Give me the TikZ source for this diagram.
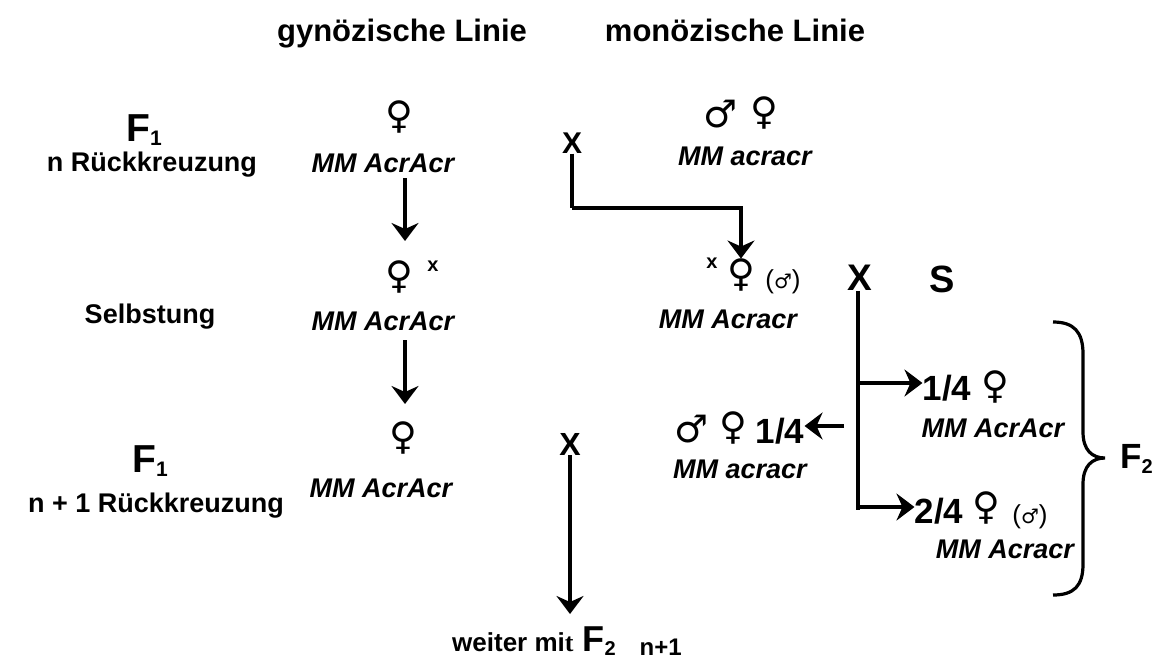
\documentclass[tikz,border=0pt]{standalone}
\usepackage{fontspec}
\setmainfont{Liberation Sans}
\newfontfamily\sym{DejaVu Sans}
\newfontfamily\serifb{Liberation Serif}
\usetikzlibrary{arrows.meta,calc}
\newcommand{\fs}[1]{\fontsize{#1}{#1}\selectfont}
\newcommand{\lowsub}[2]{\raisebox{-#1pt}{\fs{21}#2}}
\begin{document}
\begin{tikzpicture}[x=1pt,y=-1pt,
  txt/.style={inner sep=0pt, anchor=base, font=\bfseries\fs{27}},
  ttl/.style={inner sep=0pt, anchor=base, font=\bfseries\fs{31}},
  gen/.style={inner sep=0pt, anchor=base, font=\bfseries\itshape\fs{27}},
  sx/.style={inner sep=0pt, font=\sym\fs{38}},
  frac/.style={inner sep=0pt, anchor=base, font=\bfseries\fs{35}},
  par/.style={inner sep=0pt, font=\fs{26}},
  bigF/.style={inner sep=0pt, anchor=base west, font=\bfseries\fs{39}},
  arr/.style={line width=4pt, -{Stealth[length=18pt,width=27pt,inset=6pt]}},
  ln/.style={line width=4pt},
]
\useasboundingbox (0,0) rectangle (1161,659);
% titles
\node[ttl] (tg) at (402,41) {gynözische Linie};
\node[ttl] (tm) at (735,41) {monözische Linie};
% left labels
\node[bigF] (f1a) at (126,141) {F\lowsub{4}{1}};
\node[txt] (rk1) at (152,171) {n Rückkreuzung};
\node[txt] (self) at (150,323) {Selbstung};
\node[bigF] (f1b) at (132,472) {F\lowsub{4}{1}};
\node[txt] (rk2) at (156,512) {n + 1 Rückkreuzung};
% gynoecious line
\node[sx] (fem1) at (399,117) {♀};
\node[gen] (gen1) at (383,172) {MM AcrAcr};
\node[sx] (fem2) at (399,277) {♀};
\node[inner sep=0pt,font=\bfseries\fs{20}] (xs2) at (433,266) {x};
\node[gen] (gen2) at (383,330) {MM AcrAcr};
\node[sx] (fem3) at (403,438) {♀};
\node[gen] (gen3) at (381,497) {MM AcrAcr};
\coordinate (a1s) at (405,178);
\coordinate (a1e) at (405,241);
\coordinate (a2s) at (405,340);
\coordinate (a2e) at (405,404);
\draw[arr] (a1s) -- (a1e);
\draw[arr] (a2s) -- (a2e);
% crosses
\node[inner sep=0pt,font=\bfseries\fs{30}] (crossA) at (572,143) {X};
\node[inner sep=0pt,font=\bfseries\fs{32}] (crossB) at (570,444) {X};
\node[inner sep=0pt,font=\bfseries\fs{37}] (crossC) at (860,278) {X};
\node[inner sep=0pt,font=\bfseries\fs{38}] (S) at (942,279) {S};
% monoecious line
\node[sx] (mal1) at (721,114) {♂};
\node[sx] (fem5) at (764,113) {♀};
\node[gen] (gen5) at (745,165) {MM acracr};
\node[inner sep=0pt,font=\bfseries\fs{20}] (xs4) at (712,263) {x};
\node[sx] (fem4) at (741,275) {♀};
\node[par] (pm4) at (783,282) {({\sym\fs{20}♂})};
\node[gen] (gen4) at (728,328) {MM Acracr};
\coordinate (kA) at (572,208);
\draw[ln] (crossA.south) -- (kA);
\draw[arr] (kA) -| (fem4.north);
% offspring
\node[frac] (q1) at (947,400) {1/4};
\node[sx] (fem6) at (995,387) {♀};
\node[gen] (gen6) at (993,437) {MM AcrAcr};
\node[frac] (q2) at (939,523) {2/4};
\node[sx] (fem7) at (986,508) {♀};
\node[par] (pm7) at (1030,517) {({\sym\fs{20}♂})};
\node[gen] (gen7) at (1005,558) {MM Acracr};
\node[sx] (mal8) at (692,429) {♂};
\node[sx] (fem8) at (733,428) {♀};
\node[frac] (q3) at (780,443) {1/4};
\node[gen] (gen8) at (740,478) {MM acracr};
\coordinate (cEnd) at (858,510);
\draw[ln] (crossC.south -| cEnd) -- (cEnd);
\coordinate (b1) at (858,383);
\coordinate (b2) at (858,507);
\draw[arr] (b1) -- (q1.west |- b1);
\draw[arr] (b2) -- (q2.west |- b2);
\coordinate (lS) at (844,426);
\draw[arr] (lS) -- (q3.east |- lS);
% brace
\node[inner sep=0pt] (brtip) at (1105,458) {};
\draw[line width=3.2pt] (1053,322) .. controls (1074,322) and (1083,332) .. (1083,354)
  -- (1083,432) .. controls (1083,450) and (1092,458) .. (brtip.center)
  .. controls (1092,458) and (1083,466) .. (1083,484)
  -- (1083,564) .. controls (1083,586) and (1074,595) .. (1053,595);
\node[bigF,font=\bfseries\fs{35}] (F2) at (1120,468) {F\raisebox{-5pt}{\fs{20}2}};
% bottom
\coordinate (bEnd) at (570,614);
\draw[arr] (crossB.south) -- (bEnd);
\node[inner sep=0pt,anchor=base west,font=\bfseries\fs{26}] (weiter) at (452,651) {weiter mi{\serifb t}\hspace{9pt}{\fs{36}F}\raisebox{-4pt}{\fs{20}2}\hspace{24pt}\raisebox{-4pt}{\fs{24}n+1}};
\end{tikzpicture}
\end{document}
